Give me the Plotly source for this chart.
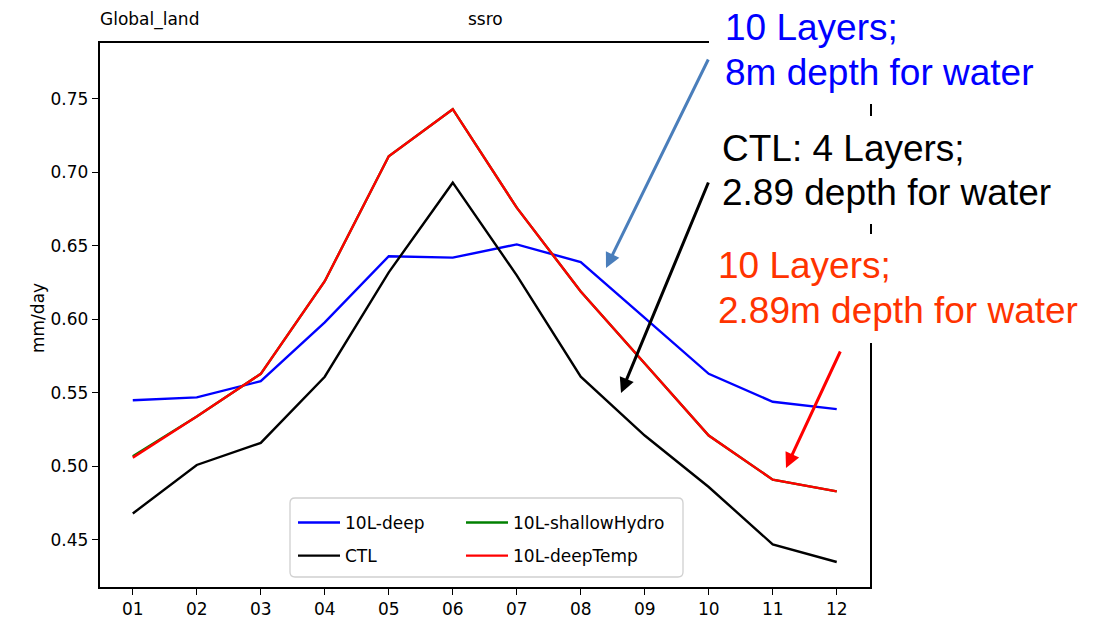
import plotly.graph_objects as go

W, H = 1104, 630

# Monthly mean ssro over global land (mm/day)
months = ["01", "02", "03", "04", "05", "06", "07", "08", "09", "10", "11", "12"]
deep_10l = [0.545, 0.547, 0.558, 0.598, 0.643, 0.642, 0.651, 0.639, 0.601, 0.563, 0.544, 0.539]
ctl = [0.468, 0.501, 0.516, 0.561, 0.632, 0.693, 0.630, 0.561, 0.521, 0.486, 0.447, 0.435]
shallow_hydro_10l = [0.507, 0.534, 0.563, 0.626, 0.711, 0.743, 0.676, 0.619, 0.570, 0.521, 0.491, 0.483]
deep_temp_10l = [0.506, 0.534, 0.563, 0.626, 0.711, 0.743, 0.676, 0.619, 0.570, 0.521, 0.491, 0.483]

y_ticks = [0.45, 0.50, 0.55, 0.60, 0.65, 0.70, 0.75]

FONT = "DejaVu Sans"
NOTE_FONT = "Liberation Sans, Arial, sans-serif"


def fx(x):
    """pixel column -> paper x"""
    return x / W


def fy(y):
    """pixel row -> paper y"""
    return 1 - y / H


fig = go.Figure()

# plotting order: blue, black, green, red (red on top)
series = [
    ("10L-deep", deep_10l, "#0000ff", "legend", 1),
    ("CTL", ctl, "#000000", "legend", 2),
    ("10L-shallowHydro", shallow_hydro_10l, "#008000", "legend2", 1),
    ("10L-deepTemp", deep_temp_10l, "#ff0000", "legend2", 2),
]
for name, vals, color, leg, rank in series:
    fig.add_trace(go.Scatter(
        x=months, y=vals, mode="lines", name=name,
        line=dict(color=color, width=2.4),
        legend=leg, legendgroup=name, legendrank=rank,
    ))

axis_common = dict(
    showline=True, linecolor="black", linewidth=1.6, mirror=True,
    ticks="outside", ticklen=6, tickwidth=1.4, tickcolor="black",
    showgrid=False, zeroline=False,
    tickfont=dict(family=FONT, size=17, color="black"),
    automargin=False, fixedrange=True,
)

fig.update_layout(
    width=W, height=H,
    margin=dict(l=0, r=0, t=0, b=0),
    template="none",
    paper_bgcolor="white", plot_bgcolor="white",
    font=dict(family=FONT, size=17, color="black"),
    xaxis=dict(
        type="category", range=[-0.52, 11.52],
        domain=[99.5 / W, 870 / W], **axis_common,
    ),
    yaxis=dict(
        range=[0.418, 0.788], tickvals=y_ticks, tickformat=".2f",
        domain=[(H - 587) / H, (H - 43) / H], **axis_common,
    ),
    legend=dict(
        x=fx(293), y=fy(505), xanchor="left", yanchor="top",
        bgcolor="rgba(0,0,0,0)", borderwidth=0,
        font=dict(family=FONT, size=17, color="black"),
        itemwidth=42, tracegroupgap=8, traceorder="grouped",
    ),
    legend2=dict(
        x=fx(461), y=fy(505), xanchor="left", yanchor="top",
        bgcolor="rgba(0,0,0,0)", borderwidth=0,
        font=dict(family=FONT, size=17, color="black"),
        itemwidth=42, tracegroupgap=8, traceorder="grouped",
    ),
    showlegend=True,
)

# legend frame (rounded box)
x0, x1, y0, y1, r = fx(290), fx(683), fy(577), fy(498), 5
rx, ry = r / W, r / H
fig.add_shape(
    type="path", xref="paper", yref="paper", layer="below",
    path=(f"M{x0 + rx},{y0} L{x1 - rx},{y0} Q{x1},{y0} {x1},{y0 + ry} "
          f"L{x1},{y1 - ry} Q{x1},{y1} {x1 - rx},{y1} L{x0 + rx},{y1} "
          f"Q{x0},{y1} {x0},{y1 - ry} L{x0},{y0 + ry} Q{x0},{y0} {x0 + rx},{y0} Z"),
    line=dict(color="#d0d0d0", width=1.3), fillcolor="white",
)

# white note boxes on the upper right
for top, bottom in [(0, 104), (116, 224), (234, 343)]:
    fig.add_shape(
        type="rect", xref="paper", yref="paper", layer="above",
        x0=fx(709), x1=1.0, y0=fy(bottom), y1=fy(top),
        line=dict(width=0), fillcolor="white",
    )

# panel titles
fig.add_annotation(text="Global_land", xref="paper", yref="paper",
                   x=fx(98), y=fy(19), xanchor="left", yanchor="middle",
                   showarrow=False, font=dict(family=FONT, size=17, color="black"))
fig.add_annotation(text="ssro", xref="paper", yref="paper",
                   x=fx(485), y=fy(19), xanchor="center", yanchor="middle",
                   showarrow=False, font=dict(family=FONT, size=17, color="black"))

# y-axis label
fig.add_annotation(text="mm/day", xref="paper", yref="paper",
                   x=fx(38), y=fy(318), xanchor="center", yanchor="middle",
                   textangle=-90, showarrow=False,
                   font=dict(family=FONT, size=17, color="black"))

# notes
notes = [
    ("10 Layers;", "#0000ff", 723, 28),
    ("8m depth for water", "#0000ff", 723, 72),
    ("CTL: 4 Layers;", "#000000", 720, 148),
    ("2.89 depth for water", "#000000", 720, 192),
    ("10 Layers;", "#ff3300", 716, 265),
    ("2.89m depth for water", "#ff3300", 716, 310),
]
for text, color, x, y in notes:
    fig.add_annotation(text=text, xref="paper", yref="paper",
                       x=fx(x), y=fy(y), xanchor="left", yanchor="middle",
                       showarrow=False,
                       font=dict(family=NOTE_FONT, size=37, color=color))

# pointer arrows: (head x, head y, tail x, tail y, color)
arrows = [
    (606, 268, 709, 58, "#4a7ebb"),
    (621, 393, 709, 181, "#000000"),
    (786, 468, 841, 350, "#ff0000"),
]
for hx, hy, tx, ty, color in arrows:
    fig.add_annotation(text="", xref="paper", yref="paper",
                       x=fx(hx), y=fy(hy), axref="pixel", ayref="pixel",
                       ax=tx - hx, ay=ty - hy,
                       showarrow=True, arrowhead=2, arrowsize=1,
                       arrowwidth=3, arrowcolor=color, standoff=0)

fig.write_html("out.html")
